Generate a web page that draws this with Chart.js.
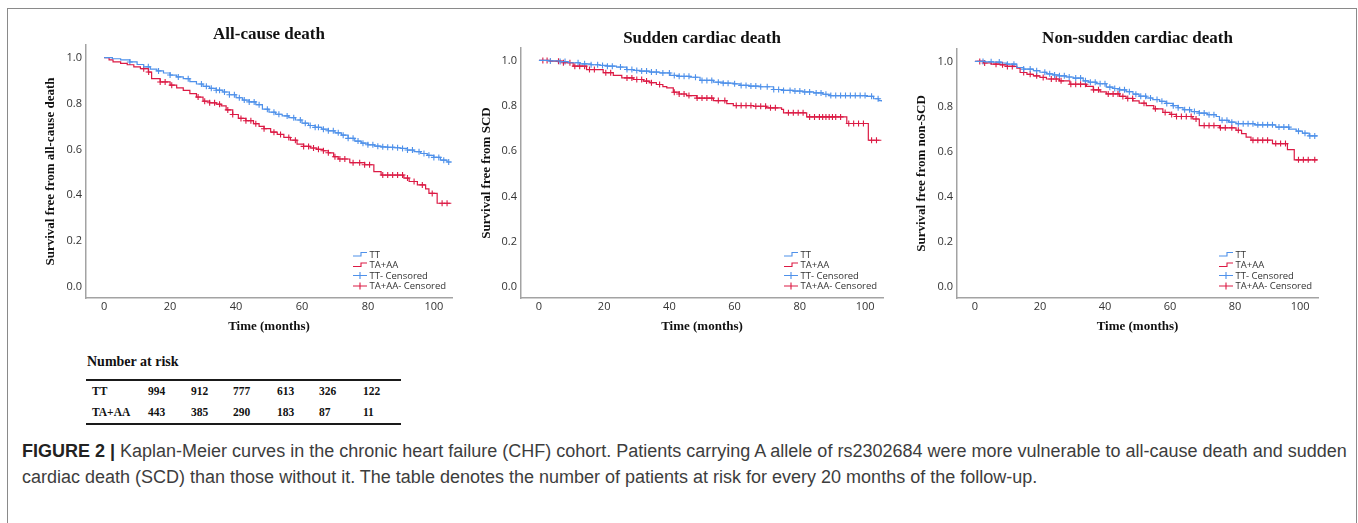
<!DOCTYPE html>
<html>
<head>
<meta charset="utf-8">
<title>Kaplan-Meier curves</title>
<script src="https://cdn.jsdelivr.net/npm/chart.js@4.4.1/dist/chart.umd.min.js"></script>
<style>
    body {
        margin: 0;
        width: 1358px;
        height: 523px;
        background: #fff;
        position: relative;
        overflow: hidden;
    }
    .frame {
        position: absolute;
        left: 7px;
        top: 8px;
        width: 1350px;
        height: 540px;
        border: 1.5px solid #8a8a8a;
        box-sizing: border-box;
    }
    canvas.km {
        position: absolute;
        top: 0;
    }
    .risk-title {
        position: absolute;
        left: 87px;
        top: 353px;
        font: bold 14px "Liberation Serif", serif;
        line-height: 17px;
        color: #111;
    }
    table.risk {
        position: absolute;
        left: 86px;
        top: 379px;
        width: 315px;
        table-layout: fixed;
        border-collapse: collapse;
        border-top: 2px solid #1a1a1a;
        border-bottom: 2px solid #1a1a1a;
        font: bold 11.5px "Liberation Serif", serif;
        color: #111;
    }
    table.risk td {
        height: 21px;
        line-height: 21px;
        padding: 0;
        white-space: nowrap;
    }
    table.risk td:first-child {
        padding-left: 6px;
    }
    .caption {
        position: absolute;
        left: 22px;
        top: 438px;
        font: 18px "Liberation Sans", sans-serif;
        line-height: 26px;
        color: #3d3d3d;
        white-space: nowrap;
    }
    .caption b {
        color: #222;
    }
</style>
</head>
<body>
<div class="frame"></div>
<canvas class="km" id="chartAll"></canvas>
<canvas class="km" id="chartScd"></canvas>
<canvas class="km" id="chartNonScd"></canvas>
<div class="risk-title">Number at risk</div>
<table class="risk" id="riskTable">
    <colgroup>
        <col style="width:62px"><col style="width:43px"><col style="width:42px"><col style="width:44px">
        <col style="width:42px"><col style="width:44px"><col style="width:38px">
    </colgroup>
    <tbody></tbody>
</table>
<div class="caption"><b>FIGURE 2 |</b> Kaplan-Meier curves in the chronic heart failure (CHF) cohort. Patients carrying A allele of rs2302684 were more vulnerable to all-cause death and sudden<br>cardiac death (SCD) than those without it. The table denotes the number of patients at risk for every 20 months of the follow-up.</div>

<script>
// Axis ticks and groups
const timeTicks = [0, 20, 40, 60, 80, 100];
const survTicks = [0, 0.2, 0.4, 0.6, 0.8, 1.0];
const groupLabels = ['TT', 'TA+AA'];

// Number at risk, every 20 months
const riskTT = [994, 912, 777, 613, 326, 122];
const riskTAAA = [443, 385, 290, 183, 87, 11];

// Kaplan-Meier steps [months, survival]
const allCauseTT = [[0,1],[2.5,0.995],[5,0.99],[7.8,0.981],[10,0.97],[12,0.96],[14,0.95],[16,0.942],[18,0.933],[20,0.924],
    [22,0.916],[24,0.908],[26,0.895],[28,0.885],[30,0.875],[32,0.866],[34,0.858],[36,0.85],[38,0.838],[40,0.825],
    [42,0.815],[44,0.807],[46,0.795],[48,0.775],[50,0.762],[52,0.753],[54,0.746],[56,0.738],[58,0.728],[60,0.714],
    [62,0.704],[64,0.696],[66,0.688],[68,0.681],[70,0.672],[72,0.662],[74,0.648],[76,0.636],[78,0.627],[80,0.62],
    [82,0.614],[84,0.611],[86,0.609],[88,0.607],[90,0.604],[92,0.597],[94,0.59],[96,0.582],[98,0.574],[100,0.565],
    [102,0.553],[104,0.545],[105.3,0.545]];
const allCauseTAAA = [[0,1],[1.5,0.99],[2.7,0.981],[5,0.975],[7,0.969],[9,0.96],[11,0.952],[13.4,0.937],[14.4,0.908],
    [17,0.894],[20,0.88],[22,0.868],[24,0.857],[26,0.843],[28,0.828],[30,0.81],[32,0.803],[34,0.797],[35.5,0.79],
    [37,0.772],[39,0.752],[40.7,0.735],[43,0.725],[45.3,0.712],[47,0.7],[48.5,0.69],[50.5,0.675],[52.5,0.665],
    [54.5,0.652],[56.5,0.64],[58.5,0.623],[60.5,0.613],[62.5,0.606],[64.5,0.6],[66.5,0.594],[68,0.585],[69.6,0.568],
    [71,0.558],[74.5,0.542],[79,0.533],[81.8,0.503],[84,0.488],[90.9,0.475],[92.5,0.46],[95,0.445],[97.5,0.428],
    [98.5,0.408],[101,0.365],[105.3,0.365]];
const scdTT = [[0,1],[3,0.998],[6.4,0.995],[9,0.99],[12.6,0.985],[16,0.981],[18.7,0.978],[21,0.975],[23.8,0.971],
    [26.9,0.96],[29,0.956],[31,0.953],[34,0.949],[37,0.945],[40.2,0.934],[43,0.93],[46.3,0.926],[49.4,0.912],
    [53.5,0.904],[56.5,0.9],[59.6,0.897],[61.7,0.89],[64.5,0.887],[67.8,0.884],[71.9,0.872],[75,0.868],[78,0.865],
    [81,0.861],[84.2,0.857],[87,0.851],[89.3,0.845],[100.5,0.842],[102.6,0.831],[104.2,0.823],[105,0.819]];
const scdTAAA = [[0,1],[3.4,0.997],[7.5,0.99],[10.5,0.975],[14.6,0.96],[19.7,0.946],[22.8,0.934],[25.4,0.923],
    [28.9,0.916],[32,0.909],[34,0.902],[36,0.894],[38,0.885],[39.2,0.879],[41.2,0.86],[43,0.852],[45.3,0.845],
    [48.4,0.834],[53.5,0.823],[57.6,0.81],[59.6,0.801],[65.8,0.798],[69.8,0.791],[74.4,0.784],[75,0.769],
    [82.1,0.751],[94.4,0.722],[101,0.648],[105,0.648]];
const nonScdTT = [[0,1],[3,0.998],[5.7,0.997],[8,0.993],[9.8,0.988],[12.9,0.973],[15,0.966],[18,0.959],[20,0.952],
    [22,0.945],[24,0.94],[26,0.936],[28,0.931],[30.2,0.926],[33.3,0.914],[35,0.908],[37.4,0.901],[40.4,0.886],
    [42.5,0.88],[44.5,0.874],[46.5,0.866],[48.6,0.855],[50.5,0.846],[52.7,0.838],[54.7,0.831],[56.8,0.823],
    [58.8,0.814],[60.9,0.804],[62.5,0.795],[64,0.786],[66.5,0.778],[69,0.771],[71.5,0.764],[74.2,0.756],
    [75.2,0.739],[78,0.731],[80.3,0.724],[86,0.719],[92.5,0.709],[96.6,0.7],[98.8,0.691],[100.7,0.682],
    [102.8,0.67],[105.3,0.67]];
const nonScdTAAA = [[0,1],[2.7,0.993],[5,0.988],[7.8,0.985],[10,0.978],[12.9,0.97],[13.9,0.951],[16,0.943],
    [18,0.936],[20,0.929],[22,0.922],[26,0.914],[29.2,0.899],[34.3,0.889],[36.4,0.874],[38.5,0.865],[40.4,0.856],
    [44.5,0.845],[46.5,0.836],[48.6,0.825],[50.5,0.815],[52.7,0.804],[55,0.79],[57.8,0.774],[60,0.765],
    [61.9,0.756],[67,0.745],[69,0.716],[75.2,0.706],[80.3,0.695],[82,0.68],[83.4,0.665],[84.9,0.651],
    [91.5,0.636],[96.1,0.609],[98.2,0.564],[105.3,0.564]];

// Censored follow-up times (months)
const allCauseTTCens = [7.8, 13.4, 16.5, 20, 22.5, 25.5, 29.5, 31, 32.5, 34, 35, 36.5, 38, 39.5, 41, 42.5, 44, 45.5,
    47, 49.5, 51.5, 53, 55.5, 57.5, 59.5, 61, 62.5, 64, 65, 66.5, 68, 69.5, 71, 72.5, 74, 75.5, 77, 78.5, 80, 81.5,
    83, 84.5, 86, 87.5, 89, 90.5, 92, 93.5, 95.5, 97, 98.5, 100, 101.5, 103, 104.5];
const allCauseTAAACens = [12, 13.5, 17, 18.5, 20.5, 28.5, 30.5, 32, 33.5, 35, 37.5, 39, 41.5, 43, 44.5, 46, 48.5,
    51.5, 53.5, 56, 58, 60.5, 62, 63.5, 65, 66.5, 68, 70, 71.5, 73, 75.5, 77.5, 79, 80.5, 84.5, 86, 87.5, 89, 90.5,
    92, 94, 96.5, 99.5, 102.5, 104];
const scdTTCens = [3.5, 6.5, 8, 12, 14, 16, 18, 19.5, 21, 22.5, 25, 27, 28.5, 30, 31.5, 33, 34.5, 36, 38, 40, 41.5,
    43, 44.5, 46, 48, 50, 51.5, 53, 55, 56.5, 58, 60, 62, 63.5, 65, 66.5, 68, 70, 72, 73.5, 75, 77, 78.5, 80, 81.5,
    83, 85, 86.5, 88, 89.5, 91, 92.5, 94, 95.5, 97, 98.5, 100, 102, 104];
const scdTAAACens = [1.2, 2.5, 6, 7.5, 9.5, 11, 12.5, 14, 15.5, 17, 20.5, 22, 27, 28.5, 30, 31.5, 33, 34.5, 37,
    41.5, 43, 44.5, 46, 48.5, 50, 51.5, 53, 55, 57, 60.5, 62, 63.5, 65, 66.5, 68, 69.5, 71, 72.5, 76.5, 78, 79.5,
    81, 83, 84.5, 86, 87, 88, 89, 90, 91, 92.5, 95, 96.5, 98, 99.5, 102, 103.5];
const nonScdTTCens = [2.5, 5, 7.5, 10, 12, 15, 17, 19, 21.5, 23, 24.5, 26, 27.5, 29, 31, 32.5, 34, 35.5, 37, 38.5,
    40, 41.5, 43, 44.5, 46, 47.5, 49.5, 51, 52.5, 54, 56, 57.5, 59, 61, 62.5, 64.5, 66, 67.5, 69, 70.5, 72, 73.5,
    76, 77.5, 79, 81, 82.5, 84, 85.5, 87, 88.5, 90, 91.5, 93.5, 95, 96.5, 99.5, 101.5, 103, 104.5];
const nonScdTAAACens = [1.5, 3, 6.5, 8.5, 10, 11.5, 15, 17, 19, 21, 23.5, 25, 26.5, 29.5, 31, 32.5, 34, 36.5, 38,
    41, 42.5, 44, 45.5, 47, 48.5, 52, 55.5, 58.5, 60.5, 62, 63.5, 65, 66.5, 68, 70.5, 72, 73.5, 75.5, 77, 79, 81,
    85.5, 87, 88.5, 90, 92.5, 94, 95.5, 99.5, 101, 102.5, 104.5];

const BLUE = '#4f91ea';
const RED = '#dc1a44';
const CANVAS_H = 345;

// Where each panel sits on the page (plot area edges in px)
const panels = [
    { id: 'chartAll', title: 'All-cause death', yTitle: 'Survival free from all-cause death',
      area: { l: 86, r: 452, t: 45, b: 298 }, titleY: 35, yTitleX: 50.5,
      tt: allCauseTT, ta: allCauseTAAA, ttCens: allCauseTTCens, taCens: allCauseTAAACens },
    { id: 'chartScd', title: 'Sudden cardiac death', yTitle: 'Survival free from SCD',
      area: { l: 521, r: 883, t: 48, b: 298 }, titleY: 38.5, yTitleX: 486.5,
      tt: scdTT, ta: scdTAAA, ttCens: scdTTCens, taCens: scdTAAACens },
    { id: 'chartNonScd', title: 'Non-sudden cardiac death', yTitle: 'Survival free from non-SCD',
      area: { l: 957, r: 1318, t: 49, b: 298 }, titleY: 38.5, yTitleX: 921.5,
      tt: nonScdTT, ta: nonScdTAAA, ttCens: nonScdTTCens, taCens: nonScdTAAACens }
];

// Survival value of a step curve at time t
function survivalAt(curve, t) {
    let s = curve[0][1];
    for (const [time, value] of curve) {
        if (time <= t) s = value;
    }
    return s;
}

function toPoints(curve) {
    return curve.map(([x, y]) => ({ x, y }));
}

function censorPoints(curve, times) {
    return times.map(t => ({ x: t, y: survivalAt(curve, t) }));
}

// Legend in the lower right corner of the plot, SPSS style
const kmLegend = {
    id: 'kmLegend',
    afterDraw(chart) {
        const { ctx, chartArea } = chart;
        const x0 = chartArea.right - 99;
        let y = chartArea.bottom - 43.5;
        ctx.save();
        ctx.font = '9.5px "Open Sans"';
        ctx.textBaseline = 'middle';
        ctx.textAlign = 'left';
        chart.data.datasets.forEach(ds => {
            ctx.strokeStyle = ds.borderColor;
            ctx.lineWidth = 1.1;
            ctx.beginPath();
            if (ds.showLine === false) {
                ctx.moveTo(x0, y);
                ctx.lineTo(x0 + 14, y);
                ctx.moveTo(x0 + 7, y - 3.5);
                ctx.lineTo(x0 + 7, y + 3.5);
            } else {
                ctx.moveTo(x0, y + 1.5);
                ctx.lineTo(x0 + 8, y + 1.5);
                ctx.lineTo(x0 + 8, y - 2);
                ctx.lineTo(x0 + 14, y - 2);
            }
            ctx.stroke();
            ctx.fillStyle = '#333';
            ctx.fillText(ds.label, x0 + 16.5, y + 0.5);
            y += 10.5;
        });
        ctx.restore();
    }
};

function buildChart(p) {
    const canvas = document.getElementById(p.id);
    const left = Math.round(p.yTitleX - 10);
    const width = p.area.r - left + 6;
    canvas.width = width;
    canvas.height = CANVAS_H;
    canvas.style.left = left + 'px';
    canvas.style.width = width + 'px';
    canvas.style.height = CANVAS_H + 'px';

    const yScaleWidth = p.area.l - left;
    const xScaleHeight = CANVAS_H - p.area.b;

    return new Chart(canvas.getContext('2d'), {
        type: 'line',
        data: {
            datasets: [
                {
                    label: groupLabels[0],
                    data: toPoints(p.tt),
                    stepped: true,
                    borderColor: BLUE,
                    borderWidth: 1.2,
                    pointRadius: 0,
                    fill: false
                },
                {
                    label: groupLabels[1],
                    data: toPoints(p.ta),
                    stepped: true,
                    borderColor: RED,
                    borderWidth: 1.2,
                    pointRadius: 0,
                    fill: false
                },
                {
                    label: groupLabels[0] + '- Censored',
                    data: censorPoints(p.tt, p.ttCens),
                    showLine: false,
                    borderColor: BLUE,
                    pointStyle: 'cross',
                    pointRadius: 3,
                    pointBorderWidth: 1.1
                },
                {
                    label: groupLabels[1] + '- Censored',
                    data: censorPoints(p.ta, p.taCens),
                    showLine: false,
                    borderColor: RED,
                    pointStyle: 'cross',
                    pointRadius: 3,
                    pointBorderWidth: 1.1
                }
            ]
        },
        options: {
            responsive: false,
            animation: false,
            devicePixelRatio: 1,
            layout: { padding: { left: 0, right: 6, top: 0, bottom: 0 } },
            plugins: {
                legend: { display: false },
                tooltip: { enabled: false },
                title: {
                    display: true,
                    fullSize: false,
                    text: p.title,
                    color: '#111',
                    font: { family: '"Liberation Serif"', size: 17, weight: 'bold', lineHeight: 1.2 },
                    padding: { top: p.titleY - 10.2, bottom: p.area.t - p.titleY - 10.2 }
                }
            },
            scales: {
                x: {
                    type: 'linear',
                    min: -5.5,
                    max: 105.5,
                    grid: { display: false, drawTicks: false },
                    border: { display: true, color: '#a3a3a3', width: 1.5 },
                    afterBuildTicks: s => { s.ticks = timeTicks.map(v => ({ value: v })); },
                    afterFit: s => { s.height = xScaleHeight; },
                    ticks: {
                        padding: 2.4,
                        color: '#333',
                        font: { family: '"Open Sans"', size: 11 },
                        callback: v => String(v)
                    },
                    title: {
                        display: true,
                        text: 'Time (months)',
                        color: '#111',
                        font: { family: '"Liberation Serif"', size: 13, weight: 'bold', lineHeight: 1.2 },
                        padding: { top: 0, bottom: CANVAS_H - 327 - 7.8 }
                    }
                },
                y: {
                    type: 'linear',
                    min: -0.048,
                    max: 1.055,
                    grid: { display: false, drawTicks: false },
                    border: { display: true, color: '#a3a3a3', width: 1.5 },
                    afterBuildTicks: s => { s.ticks = survTicks.map(v => ({ value: v })); },
                    afterFit: s => { s.width = yScaleWidth; },
                    ticks: {
                        padding: 4,
                        color: '#333',
                        font: { family: '"Open Sans"', size: 11 },
                        callback: v => v.toFixed(1)
                    },
                    title: {
                        display: true,
                        text: p.yTitle,
                        color: '#111',
                        font: { family: '"Liberation Serif"', size: 13, weight: 'bold', lineHeight: 1.2 },
                        padding: { top: p.yTitleX - left - 7.8, bottom: 0 }
                    }
                }
            }
        },
        plugins: [kmLegend]
    });
}

function fillRiskTable() {
    const tbody = document.querySelector('#riskTable tbody');
    [[groupLabels[0], riskTT], [groupLabels[1], riskTAAA]].forEach(([label, counts]) => {
        const row = document.createElement('tr');
        row.innerHTML = `<td>${label}</td>` + counts.map(n => `<td>${n}</td>`).join('');
        tbody.appendChild(row);
    });
}

document.addEventListener('DOMContentLoaded', function() {
    panels.forEach(buildChart);
    fillRiskTable();
});
</script>
</body>
</html>
